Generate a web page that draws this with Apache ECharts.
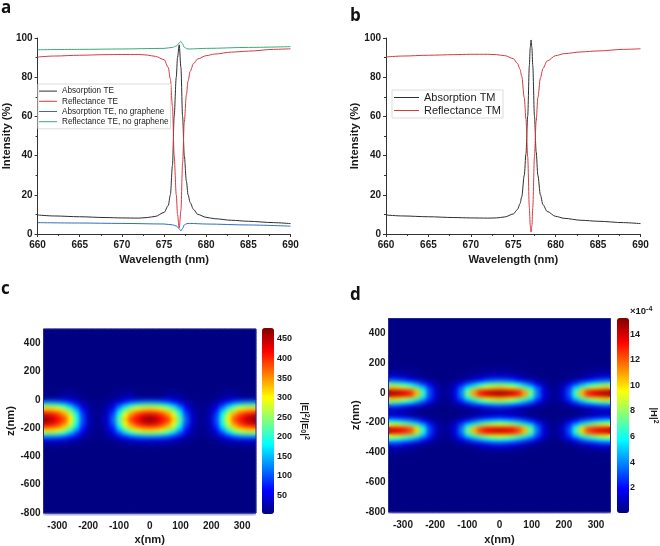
<!DOCTYPE html>
<html><head><meta charset="utf-8">
<style>
html,body{margin:0;padding:0;background:#fff}
#c{width:660px;height:546px;position:relative}
canvas[data-zr-dom-id="zr_1"]{filter:blur(2.2px);clip-path:path('M43 329H256V516H43ZM388 318H611V514H388Z')}
</style>
<script src="https://cdn.jsdelivr.net/npm/echarts@6/dist/echarts.min.js"></script>
</head><body><div id="c"></div>
<script>
// ---- panel a
const teWave=[660,662,665,668,670,672,673,674,675,675.5,675.75,676,676.2,676.45,676.6,676.8,677,677.2,677.4,677.65,677.85,678.1,678.5,679,680,681,683,685,688,690];
const absTE=[9.7,9.2,8.8,8.4,8.2,8.1,8.4,9,11,14.5,20,35,60,80,90,96.5,85,60,40,27,20,16,12.5,10,8.5,7.8,7,6.5,5.8,5.3];
const refTE=[90.3,90.8,91.2,91.5,91.6,91.6,91.3,90.6,89,85,79,65,40,20,10,3,12,36,57,71,78,83,87,89.3,91,91.8,92.8,93.3,94.2,94.5];
const plainWave=[660,665,670,675,676,676.5,676.8,677,677.2,677.4,677.7,678,680,685,690];
const absPlain=[5.8,5.6,5.4,5.1,4.7,4,2.6,1.6,2.8,4.6,5.3,5.4,5.1,4.6,4];
const refPlain=[94,94.2,94.4,94.7,95.2,96,97.5,98.2,97,95.3,94.5,94.4,94.7,95.2,95.6];
// ---- panel b
const tmWave=[660,662,665,668,670,672,673,674,675,675.5,675.8,676,676.3,676.5,676.7,676.9,677,677.1,677.2,677.3,677.5,677.7,677.9,678.2,678.5,679,680,681,683,685,688,690];
const absTM=[9.7,9.2,8.8,8.4,8.2,8.1,8.2,8.7,10.2,12.5,15.5,19,30,41,60,86,95,99,95,86,60,42,30,20,15,11.5,9,8,7,6.5,5.8,5.3];
const refTM=[90.3,90.8,91.2,91.5,91.7,91.7,91.5,91,89.5,87,84,80.5,69.5,58.5,39.5,13.5,4.5,1,4.5,13.5,39.5,57.5,69.5,79.5,84.5,88.3,91,92,92.9,93.4,94.2,94.5];
// ---- field panels: half profiles, columns at |x| = 0,20,...,340 nm
const xHalf=[0,20,40,60,80,100,120,140,160,180,200,220,240,260,280,300,320,340];
const xTicks=[-300,-200,-100,0,100,200,300];
const zTicks=[-800,-600,-400,-200,0,200,400];
const eBackground=4;
const eZ=[87.5,62.5,37.5,12.5,-12.5,-37.5,-62.5,-87.5,-112.5,-137.5,-162.5,-187.5,-212.5,-237.5,-262.5,-287.5,-312.5,-337.5];
const eRows=[
[4,4,4,6,6,5,4,4,4,4,4,4,5,6,6,4,4,4],
[5,5,5,10,10,8,5,4,4,4,4,5,8,10,10,5,5,5],
[6,6,8,20,18,12,7,5,4,4,5,7,12,16,18,8,6,6],
[12,12,16,34,30,22,11,6,5,5,6,10,18,24,28,16,12,12],
[115,112,105,90,68,42,24,12,7,6,10,20,42,68,90,106,112,115],
[235,230,215,190,150,95,45,18,8,7,15,35,85,140,187,218,230,235],
[320,315,295,265,215,140,65,28,10,9,22,62,130,205,262,300,316,320],
[395,388,368,330,270,180,85,32,11,10,25,78,170,255,325,370,385,395],
[445,435,405,365,300,205,100,38,13,10,28,88,190,290,360,398,432,445],
[475,455,422,398,328,230,110,40,14,12,32,95,200,306,388,417,447,470],
[445,435,405,365,300,205,100,38,13,10,28,88,190,290,360,398,432,445],
[395,388,368,330,270,180,85,32,11,10,25,78,170,255,325,370,385,395],
[320,315,295,265,215,140,65,28,10,9,22,62,130,205,262,300,316,320],
[235,230,215,190,150,95,45,18,8,7,15,35,85,140,187,218,230,235],
[115,112,105,90,68,42,24,12,7,6,10,20,42,68,90,106,112,115],
[42,42,40,36,28,18,11,6,5,5,6,11,18,28,36,40,42,42],
[16,16,15,13,11,9,6,5,4,4,5,6,8,11,13,15,16,16],
[7,7,7,6,5,5,4,4,4,4,4,4,5,5,6,7,7,7]];
const hBackground=0.12;
const hZ=[187.5,162.5,137.5,112.5,87.5,62.5,37.5,12.5,-12.5,-37.5,-62.5,-87.5,-112.5,-137.5,-162.5,-187.5,-212.5,-237.5,-262.5,-287.5,-312.5,-337.5,-362.5,-387.5,-412.5];
const hRows=[
[.2,.2,.2,.18,.15,.14,.12,.12,.12,.12,.12,.12,.13,.15,.18,.2,.2,.2],
[.3,.3,.28,.25,.2,.16,.13,.12,.12,.12,.12,.13,.16,.2,.25,.28,.3,.3],
[.6,.6,.5,.4,.3,.2,.15,.12,.12,.12,.12,.14,.18,.28,.38,.5,.6,.6],
[1.3,1.2,1,.8,.5,.3,.2,.15,.12,.12,.12,.17,.28,.45,.75,1,1.2,1.3],
[3.3,3.1,2.8,2,1.4,.9,.5,.3,.15,.15,.25,.45,.8,1.3,1.9,2.6,3,3.3],
[7,6.8,6.3,5.5,4.3,3,1.8,.8,.3,.3,.6,1.5,2.7,4.1,5.3,6.1,6.7,7],
[10.3,10,9.3,8.3,7,5.6,3.3,1.3,.4,.3,1,2.7,5,6.8,8.2,9,10,10.3],
[14.5,14.3,13.8,12.9,11,7.5,3.9,1.5,.5,.4,1.2,3.1,6.6,10.6,12.8,13.6,14.2,14.5],
[14.5,14.3,13.8,12.9,11,7.5,3.9,1.5,.5,.4,1.2,3.1,6.6,10.6,12.8,13.6,14.2,14.5],
[10.3,10,9.3,8.3,7,5.6,3.3,1.3,.4,.3,1,2.7,5,6.8,8.2,9,10,10.3],
[7,6.8,6.3,5.5,4.3,3,1.8,.8,.3,.3,.6,1.5,2.7,4.1,5.3,6.1,6.7,7],
[3,2.8,2.5,1.8,1.3,.8,.5,.3,.15,.15,.25,.4,.7,1.2,1.7,2.3,2.8,3],
[.95,.9,.75,.6,.4,.25,.18,.14,.12,.12,.12,.15,.22,.35,.55,.75,.9,.95],
[.85,.8,.7,.55,.35,.22,.16,.13,.12,.12,.12,.14,.2,.32,.5,.7,.8,.85],
[2.3,2.1,1.9,1.4,1,.6,.35,.2,.13,.13,.2,.3,.55,.9,1.3,1.8,2.1,2.3],
[5.6,5.4,5,4.4,3.4,2.4,1.4,.6,.25,.25,.5,1.2,2.1,3.3,4.2,4.9,5.4,5.6],
[9.5,9.2,8.6,7.7,6.5,5.2,3,1.2,.4,.3,.9,2.5,4.6,6.3,7.6,8.3,9.2,9.5],
[14,13.8,13.3,12.4,10.6,7.2,3.7,1.4,.5,.4,1.1,3,6.3,10.2,12.3,13.1,13.7,14],
[14,13.8,13.3,12.4,10.6,7.2,3.7,1.4,.5,.4,1.1,3,6.3,10.2,12.3,13.1,13.7,14],
[9.5,9.2,8.6,7.7,6.5,5.2,3,1.2,.4,.3,.9,2.5,4.6,6.3,7.6,8.3,9.2,9.5],
[6,5.8,5.4,4.7,3.7,2.6,1.5,.7,.25,.25,.5,1.3,2.3,3.5,4.6,5.2,5.7,6],
[2.8,2.6,2.3,1.7,1.2,.75,.45,.25,.14,.14,.22,.4,.7,1.1,1.6,2.2,2.6,2.8],
[1,.95,.8,.65,.42,.26,.18,.14,.12,.12,.12,.15,.23,.38,.6,.8,.95,1],
[.45,.42,.35,.28,.2,.16,.13,.12,.12,.12,.12,.13,.15,.2,.27,.35,.42,.45],
[.22,.22,.2,.18,.15,.13,.12,.12,.12,.12,.12,.12,.13,.15,.18,.2,.22,.22]];
const eBarTicks=[50,100,150,200,250,300,350,400,450];
const hBarTicks=[2,4,6,8,10,12,14];
const jet=['#00007f','#0000ff','#007fff','#00ffff','#7fff7f','#ffff00','#ff7f00','#ff0000','#7f0000'];

// ---- assembly
const pairs=(xs,ys)=>xs.map((x,i)=>[x,ys[i]]);
const xFull=[...xHalf.slice(1).reverse().map(v=>-v),...xHalf];
const zFull=Array.from({length:52},(_,k)=>-787.5+25*k);
function fieldData(zs,rows,bg){
  const out=[];
  zFull.forEach((z,zi)=>{
    const r=zs.indexOf(z);
    xFull.forEach((x,xi)=>{
      out.push([xi,zi,r<0?bg:rows[r][Math.abs(x)/20]]);
    });
  });
  return out;
}
const Z=2;
const tickFont={fontFamily:'Liberation Sans',fontWeight:'bold',fontSize:10,color:'#1a1a1a'};
const nameFont={fontFamily:'Liberation Sans',fontWeight:'bold',fontSize:11.2,color:'#1a1a1a'};
const axisCol={lineStyle:{color:'#333',width:1}};
function curveX(grid){return {type:'value',gridIndex:grid,position:'bottom',min:660,max:690,interval:5,zlevel:Z,name:'Wavelength (nm)',nameLocation:'middle',nameGap:20,nameTextStyle:nameFont,
  axisLine:{show:true,onZero:false,...axisCol},axisTick:{show:true,length:3,...axisCol},minorTick:{show:true,splitNumber:2,length:2,...axisCol},splitLine:{show:false},axisLabel:{...tickFont,margin:6}};}
function curveY(grid){return {type:'value',gridIndex:grid,position:'left',min:0,max:100,interval:20,zlevel:Z,name:'Intensity (%)',nameLocation:'middle',nameGap:24,nameTextStyle:nameFont,
  axisLine:{show:true,onZero:false,...axisCol},axisTick:{show:true,length:3,...axisCol},minorTick:{show:true,splitNumber:2,length:2,...axisCol},splitLine:{show:false},axisLabel:{...tickFont,margin:5}};}
function line(name,grid,xs,ys,color){return {type:'line',name,xAxisIndex:grid,yAxisIndex:grid,data:pairs(xs,ys),symbol:'none',smooth:0.3,smoothMonotone:'x',zlevel:Z,lineStyle:{width:1,color},itemStyle:{color},silent:true};}
function catX(grid){return {type:'category',gridIndex:grid,position:'bottom',data:xFull.map(String),show:false,zlevel:Z};}
function catY(grid){return {type:'category',gridIndex:grid,position:'right',data:zFull.map(String),show:false,zlevel:Z};}
function fieldX(grid,gap){return {type:'value',gridIndex:grid,position:'bottom',min:-345,max:345,zlevel:Z,name:'x(nm)',nameLocation:'middle',nameGap:gap,nameTextStyle:nameFont,
  axisLine:{show:false,onZero:false},axisTick:{show:false},splitLine:{show:false},axisLabel:{...tickFont,margin:8,customValues:xTicks}};}
function fieldY(grid,gap){return {type:'value',gridIndex:grid,position:'left',min:-800,max:500,zlevel:Z,name:'z(nm)',nameLocation:'middle',nameGap:gap,nameTextStyle:nameFont,
  axisLine:{show:false,onZero:false},axisTick:{show:false},splitLine:{show:false},axisLabel:{...tickFont,margin:3,customValues:zTicks}};}
function barX(grid){return {type:'value',gridIndex:grid,min:0,max:1,show:false,zlevel:Z};}
function barY(grid,min,max,ticks,name,gap){return {type:'value',gridIndex:grid,position:'right',min,max,zlevel:Z,name,nameLocation:'middle',nameGap:gap,nameRotate:-90,
  nameTextStyle:{fontFamily:'Liberation Sans',fontWeight:'bold',fontSize:9.5,color:'#1a1a1a',rich:{
    n:{fontFamily:'Liberation Sans',fontWeight:'bold',fontSize:9.5,color:'#1a1a1a'},
    s:{fontFamily:'Liberation Sans',fontWeight:'bold',fontSize:7,color:'#1a1a1a',verticalAlign:'top',lineHeight:11},
    b:{fontFamily:'Liberation Sans',fontWeight:'bold',fontSize:7,color:'#1a1a1a',verticalAlign:'bottom',lineHeight:11}}},
  axisLine:{show:false},axisTick:{show:false},splitLine:{show:false},axisLabel:{...tickFont,fontSize:9,margin:3,customValues:ticks}};}
function heat(xi,yi,data,level){return {type:'heatmap',xAxisIndex:xi,yAxisIndex:yi,data,zlevel:level,silent:true,progressive:0,animation:false,itemStyle:{borderWidth:0},emphasis:{disabled:true}};}
const frame=(r)=>({...r,show:true,borderColor:'#27278f',borderWidth:1,backgroundColor:'transparent',zlevel:Z});
const eData=fieldData(eZ,eRows,eBackground), hData=fieldData(hZ,hRows,hBackground);
const letter=(t,l,tp)=>({text:t,left:l,top:tp,padding:0,zlevel:Z,textStyle:{fontFamily:'Open Sans',fontWeight:'bold',fontSize:17,color:'#111'}});
const option={
  animation:false,
  backgroundColor:'transparent',
  textStyle:{fontFamily:'Liberation Sans'},
  title:[letter('a',1,0),letter('b',350,8),letter('c',1,281),letter('d',350,287),
    {text:'{t|×10}{e|-4}',left:630,top:306,padding:0,zlevel:Z,textStyle:{rich:{t:{fontFamily:'Liberation Sans',fontSize:9.5,color:'#1a1a1a'},e:{fontFamily:'Liberation Sans',fontSize:7,color:'#1a1a1a',verticalAlign:'top',lineHeight:11}}}}],
  grid:[
    {left:37,top:38,width:253.5,height:196,zlevel:Z},
    {left:386,top:38,width:254.5,height:196,zlevel:Z},
    frame({left:43.5,top:329,width:212.5,height:187}),
    {left:262,top:328,width:12,height:186,zlevel:Z},
    frame({left:388.5,top:318.5,width:222,height:195.5}),
    {left:617,top:318,width:12,height:195,zlevel:Z}
  ],
  xAxis:[curveX(0),curveX(1),catX(2),fieldX(2,21),barX(3),catX(4),fieldX(4,22),barX(5)],
  yAxis:[curveY(0),curveY(1),catY(2),fieldY(2,25),
    barY(3,2,478,eBarTicks,'{n||E|}{s|2}{n|/|E}{b|0}{n||}{s|2}',25),
    catY(4),fieldY(4,27),
    barY(5,0.05,15.25,hBarTicks,'{n||H|}{s|2}',21)],
  legend:[
    {left:38,top:84,orient:'vertical',data:['Absorption TE','Reflectance TE','Absorption TE, no graphene','Reflectance TE, no graphene'],icon:'rect',itemWidth:18,itemHeight:1,itemGap:0,padding:[2,2,2,1],borderColor:'#ddd',borderWidth:1,backgroundColor:'#fff',zlevel:Z,itemStyle:{borderWidth:0},textStyle:{fontFamily:'Liberation Sans',fontSize:8.2,lineHeight:10.2,color:'#222'},selectedMode:false},
    {left:392,top:90,orient:'vertical',data:['Absorption TM','Reflectance TM'],icon:'rect',itemWidth:25,itemHeight:1,itemGap:0,padding:[1,2,1,2],borderColor:'#ddd',borderWidth:1,backgroundColor:'#fff',zlevel:Z,itemStyle:{borderWidth:0},textStyle:{fontFamily:'Liberation Sans',fontSize:11,lineHeight:13,color:'#222'},selectedMode:false}
  ],
  visualMap:[
    {type:'continuous',seriesIndex:[6,7],min:2,max:478,left:262,top:328,itemWidth:12,itemHeight:186,padding:0,calculable:false,realtime:false,text:null,hoverLink:false,zlevel:Z,inRange:{color:jet}},
    {type:'continuous',seriesIndex:[8,9],min:0.05,max:15.25,left:617,top:318,itemWidth:12,itemHeight:195,padding:0,calculable:false,realtime:false,text:null,hoverLink:false,zlevel:Z,inRange:{color:jet}}
  ],
  series:[
    line('Absorption TE',0,teWave,absTE,'#2e2e2e'),
    line('Reflectance TE',0,teWave,refTE,'#d63a42'),
    line('Absorption TE, no graphene',0,plainWave,absPlain,'#2f6fb9'),
    line('Reflectance TE, no graphene',0,plainWave,refPlain,'#3da877'),
    line('Absorption TM',1,tmWave,absTM,'#2e2e2e'),
    line('Reflectance TM',1,tmWave,refTM,'#d63a42'),
    heat(2,2,eData,0),
    heat(2,2,eData,1),
    heat(5,5,hData,0),
    heat(5,5,hData,1)
  ]
};
const chart=echarts.init(document.getElementById('c'),null,{renderer:'canvas',width:660,height:546});
chart.setOption(option);
</script></body></html>
